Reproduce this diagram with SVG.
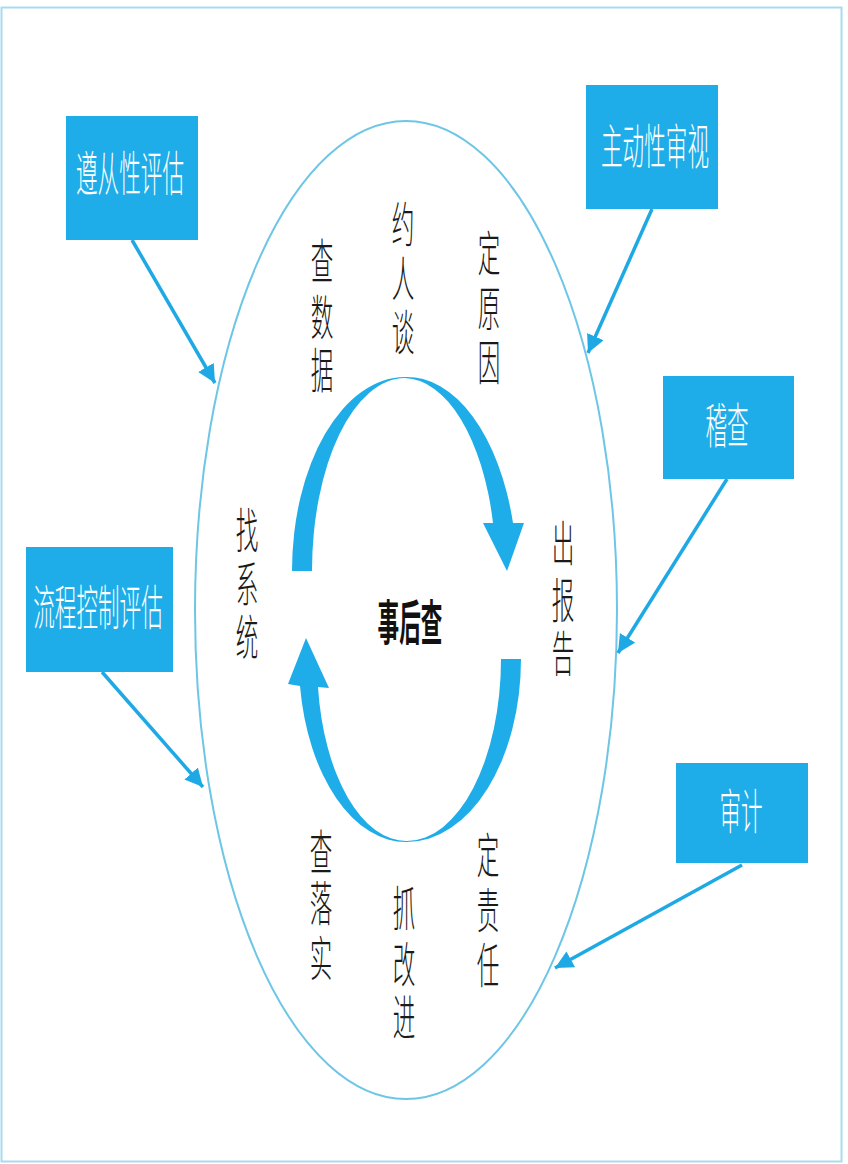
<svg xmlns="http://www.w3.org/2000/svg" width="848" height="1164" viewBox="0 0 848 1164">
<style>
.frame{fill:#fff;stroke:#a6dcef;stroke-width:2}
.ring{fill:none;stroke:#6ec6e6;stroke-width:2}
.box{fill:#1eade8}
.bt{font-family:"Noto Sans CJK SC","Noto Sans",sans-serif;font-size:48px;fill:#fff;text-anchor:middle;font-weight:300}
.vt{font-family:"Liberation Sans","Noto Sans CJK SC",sans-serif;font-size:48px;fill:#1a1a1a;text-anchor:middle;font-weight:300}
.ct{font-family:"Noto Sans CJK SC","Noto Sans",sans-serif;font-size:48px;fill:#111;text-anchor:middle;font-weight:700}
.cyc{fill:#1eade8}
.conn{stroke:#1ea9e5;stroke-width:3.5;fill:none;marker-end:url(#ah)}
</style>
<defs>
<marker id="ah" markerUnits="userSpaceOnUse" markerWidth="22" markerHeight="20" refX="18" refY="9" orient="auto">
<path d="M0,0 L18,9 L0,18 Z" fill="#1ea9e5"/>
</marker>
</defs>
<rect class="frame" x="1.5" y="7.5" width="840" height="1154"/>
<ellipse class="ring" cx="406" cy="610" rx="211" ry="489"/>

<g id="cycle">
<path class="cyc" d="M292,571 A113,194 0 0 1 405,377 A110,200 0 0 1 513,523 L524,523 L507,571 L483,523 L493,523 A92,190 0 0 0 405,378 A93,193 0 0 0 312,571 Z"/>
<path class="cyc" d="M521,659 A114,183 0 0 1 407,842 A107,182 0 0 1 300,686 L288,684 L306,638 L329,688 L318,687 A89,176 0 0 0 407,841 A94,182 0 0 0 501,659 Z"/>
</g>

<g id="center">
<text class="ct" transform="translate(410,640) scale(0.45,1)">事后查</text>
</g>

<g id="n-yuerentan">
<text class="vt" transform="translate(403,242) scale(0.47,1)">约</text>
<text class="vt" transform="translate(403,296) scale(0.47,1)">人</text>
<text class="vt" transform="translate(403,350) scale(0.47,1)">谈</text>
</g>
<g id="n-chashuju">
<text class="vt" transform="translate(322,279) scale(0.47,1)">查</text>
<text class="vt" transform="translate(322,335) scale(0.47,1)">数</text>
<text class="vt" transform="translate(322,388) scale(0.47,1)">据</text>
</g>
<g id="n-dingyuanyin">
<text class="vt" transform="translate(489,271) scale(0.47,1)">定</text>
<text class="vt" transform="translate(489,326) scale(0.47,1)">原</text>
<text class="vt" transform="translate(489,380) scale(0.47,1)">因</text>
</g>
<g id="n-zhaoxitong">
<text class="vt" transform="translate(247,548) scale(0.47,1)">找</text>
<text class="vt" transform="translate(247,602) scale(0.47,1)">系</text>
<text class="vt" transform="translate(247,655) scale(0.47,1)">统</text>
</g>
<g id="n-chubaogao">
<text class="vt" transform="translate(563,561) scale(0.47,1)">出</text>
<text class="vt" transform="translate(563,618) scale(0.47,1)">报</text>
<text class="vt" transform="translate(563,671) scale(0.47,1)">告</text>
</g>
<g id="n-chaluoshi">
<text class="vt" transform="translate(321,870) scale(0.47,1)">查</text>
<text class="vt" transform="translate(321,921) scale(0.47,1)">落</text>
<text class="vt" transform="translate(321,976) scale(0.47,1)">实</text>
</g>
<g id="n-zhuagaijin">
<text class="vt" transform="translate(404,926) scale(0.47,1)">抓</text>
<text class="vt" transform="translate(404,982) scale(0.47,1)">改</text>
<text class="vt" transform="translate(404,1035) scale(0.47,1)">进</text>
</g>
<g id="n-dingzeren">
<text class="vt" transform="translate(488,873) scale(0.47,1)">定</text>
<text class="vt" transform="translate(488,928) scale(0.47,1)">责</text>
<text class="vt" transform="translate(488,983) scale(0.47,1)">任</text>
</g>

<g id="b-zunxing">
<rect class="box" x="66" y="116" width="132" height="124"/>
<text class="bt" transform="translate(130,191) scale(0.45,1)">遵从性评估</text>
</g>
<g id="b-zhudong">
<rect class="box" x="586" y="85" width="132" height="124"/>
<text class="bt" transform="translate(655,164) scale(0.45,1)">主动性审视</text>
</g>
<g id="b-jicha">
<rect class="box" x="663" y="376" width="131" height="103"/>
<text class="bt" transform="translate(727,443) scale(0.45,1)">稽查</text>
</g>
<g id="b-liucheng">
<rect class="box" x="26" y="547" width="147" height="125"/>
<text class="bt" transform="translate(98,625) scale(0.45,1)">流程控制评估</text>
</g>
<g id="b-shenji">
<rect class="box" x="676" y="763" width="132" height="100"/>
<text class="bt" transform="translate(741,829) scale(0.45,1)">审计</text>
</g>

<g id="connectors">
<line class="conn" x1="132" y1="240" x2="215" y2="383"/>
<line class="conn" x1="652" y1="209" x2="588" y2="353"/>
<line class="conn" x1="727" y1="479" x2="618" y2="653"/>
<line class="conn" x1="102" y1="672" x2="203" y2="787"/>
<line class="conn" x1="742" y1="865" x2="555" y2="968"/>
</g>
</svg>
